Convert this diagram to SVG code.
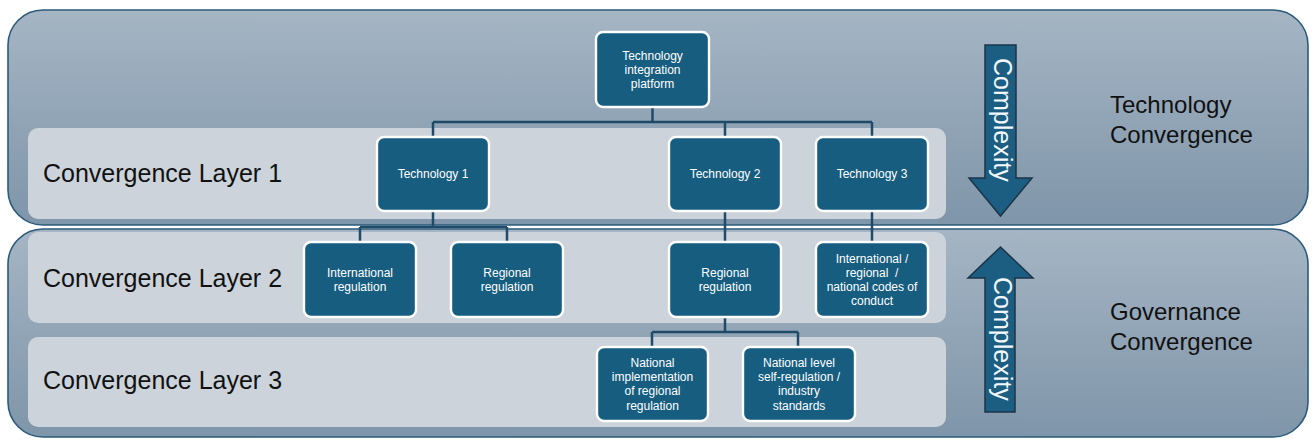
<svg xmlns="http://www.w3.org/2000/svg" width="1314" height="441" viewBox="0 0 1314 441">
  <defs>
    <linearGradient id="panelFill" x1="0" y1="0" x2="0" y2="1">
      <stop offset="0" stop-color="#a5b5c4"/>
      <stop offset="1" stop-color="#7f95a9"/>
    </linearGradient>
    <style>
      .panel { fill: url(#panelFill); stroke: #2c5b7b; stroke-width: 1.6; }
      .band { fill: #cdd3da; }
      .node rect { fill: #165d80; stroke: #ffffff; stroke-width: 2.4; }
      .node text { fill: #ffffff; font-family: "Liberation Sans", Arial, sans-serif; font-size: 12px; text-anchor: middle; }
      .layer { fill: #111111; font-family: "Liberation Sans", Arial, sans-serif; font-size: 25px; }
      .side { fill: #111111; font-family: "Liberation Sans", Arial, sans-serif; font-size: 24px; }
      .arrow { fill: #1b5e81; stroke: #1b3448; stroke-width: 1.5; stroke-linejoin: miter; }
      .arrowText { fill: #f2f6f9; font-family: "Liberation Sans", Arial, sans-serif; font-size: 25px; }
      .conn { fill: none; stroke: #1f4b68; stroke-width: 2.5; }
    </style>
  </defs>

  <!-- Outer panels -->
  <g id="panel-technology">
    <rect class="panel" x="8" y="10" width="1300" height="215" rx="35" ry="35"/>
  </g>
  <g id="panel-governance">
    <rect class="panel" x="8" y="229" width="1300" height="208" rx="35" ry="35"/>
  </g>

  <!-- Layer bands -->
  <g id="layer-1">
    <rect class="band" x="28" y="128" width="918" height="91" rx="10" ry="10"/>
    <text class="layer" x="43" y="182">Convergence Layer 1</text>
  </g>
  <g id="layer-2">
    <rect class="band" x="28" y="232" width="918" height="91" rx="10" ry="10"/>
    <text class="layer" x="43" y="287">Convergence Layer 2</text>
  </g>
  <g id="layer-3">
    <rect class="band" x="28" y="337" width="918" height="90" rx="10" ry="10"/>
    <text class="layer" x="43" y="389">Convergence Layer 3</text>
  </g>

  <!-- Connectors -->
  <g id="connectors">
    <path class="conn" d="M652.5 107 V122 M433 122 H872 M433 122 V137 M725 122 V137 M872 122 V137"/>
    <path class="conn" d="M433 211 V227 M360 227 H507 M360 227 V242 M507 227 V242"/>
    <path class="conn" d="M725 211 V243"/>
    <path class="conn" d="M872 211 V242"/>
    <path class="conn" d="M725 316 V332 M652 332 H798 M652 332 V347 M798 332 V347"/>
  </g>

  <!-- Nodes -->
  <g id="node-platform" class="node">
    <rect x="596" y="32" width="113" height="75" rx="7" ry="7"/>
    <text><tspan x="652.5" y="59.6">Technology</tspan><tspan x="652.5" y="73.8">integration</tspan><tspan x="652.5" y="88">platform</tspan></text>
  </g>
  <g id="node-tech1" class="node">
    <rect x="377" y="137" width="112" height="74" rx="7" ry="7"/>
    <text x="433" y="178.3">Technology 1</text>
  </g>
  <g id="node-tech2" class="node">
    <rect x="669" y="137" width="112" height="74" rx="7" ry="7"/>
    <text x="725" y="178.3">Technology 2</text>
  </g>
  <g id="node-tech3" class="node">
    <rect x="816" y="137" width="112" height="74" rx="7" ry="7"/>
    <text x="872" y="178.3">Technology 3</text>
  </g>
  <g id="node-intl-regulation" class="node">
    <rect x="304" y="242" width="112" height="75" rx="7" ry="7"/>
    <text><tspan x="360" y="276.7">International</tspan><tspan x="360" y="290.9">regulation</tspan></text>
  </g>
  <g id="node-regional-regulation-1" class="node">
    <rect x="451" y="242" width="112" height="75" rx="7" ry="7"/>
    <text><tspan x="507" y="276.7">Regional</tspan><tspan x="507" y="290.9">regulation</tspan></text>
  </g>
  <g id="node-regional-regulation-2" class="node">
    <rect x="669" y="242" width="112" height="75" rx="7" ry="7"/>
    <text><tspan x="725" y="276.7">Regional</tspan><tspan x="725" y="290.9">regulation</tspan></text>
  </g>
  <g id="node-codes-of-conduct" class="node">
    <rect x="816" y="242" width="112" height="75" rx="7" ry="7"/>
    <text><tspan x="872" y="262.5">International /</tspan><tspan x="872" y="276.7">regional&#160; /</tspan><tspan x="872" y="290.9">national codes of</tspan><tspan x="872" y="305.1">conduct</tspan></text>
  </g>
  <g id="node-national-implementation" class="node">
    <rect x="597" y="347" width="111" height="74" rx="7" ry="7"/>
    <text><tspan x="652.5" y="367">National</tspan><tspan x="652.5" y="381.2">implementation</tspan><tspan x="652.5" y="395.4">of regional</tspan><tspan x="652.5" y="409.6">regulation</tspan></text>
  </g>
  <g id="node-national-self-regulation" class="node">
    <rect x="743" y="347" width="112" height="74" rx="7" ry="7"/>
    <text><tspan x="799" y="367">National level</tspan><tspan x="799" y="381.2">self-regulation /</tspan><tspan x="799" y="395.4">industry</tspan><tspan x="799" y="409.6">standards</tspan></text>
  </g>

  <!-- Complexity arrows -->
  <g id="arrow-down">
    <path class="arrow" d="M985 45 H1016 V178 H1032 L1000.5 216 L969 178 H985 Z"/>
    <text class="arrowText" transform="translate(994 58) rotate(90)">Complexity</text>
  </g>
  <g id="arrow-up">
    <path class="arrow" d="M985 412 V278 H968 L1000.5 247 L1033 278 H1015 V412 Z"/>
    <text class="arrowText" transform="translate(994 277) rotate(90)">Complexity</text>
  </g>

  <!-- Side labels -->
  <g id="label-technology-convergence">
    <text class="side"><tspan x="1110" y="113">Technology</tspan><tspan x="1110" y="143">Convergence</tspan></text>
  </g>
  <g id="label-governance-convergence">
    <text class="side"><tspan x="1110" y="320">Governance</tspan><tspan x="1110" y="350">Convergence</tspan></text>
  </g>
</svg>
